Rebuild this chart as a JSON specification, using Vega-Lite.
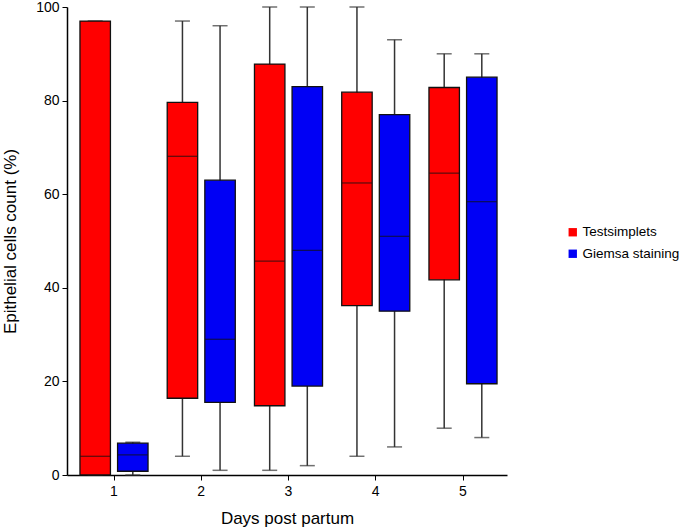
{
  "$schema": "https://vega.github.io/schema/vega-lite/v6.json",
  "width": 440,
  "height": 468,
  "autosize": "none",
  "padding": {"left": 67, "top": 7, "right": 178, "bottom": 56},
  "config": {
    "font": "Liberation Sans",
    "view": {"stroke": null},
    "axis": {"domainColor": "#000", "tickColor": "#000", "labelColor": "#000", "titleColor": "#000", "grid": false, "labelFont": "Liberation Sans", "titleFont": "Liberation Sans", "titleFontWeight": "normal"}
  },
  "data": {
    "values": [
      {"day": 1, "group": "Testsimplets", "min": 0, "q1": 0, "median": 4.0, "q3": 97, "max": 97},
      {"day": 1, "group": "Giemsa staining", "min": 0, "q1": 0.8, "median": 4.3, "q3": 6.8, "max": 7.0},
      {"day": 2, "group": "Testsimplets", "min": 4.0, "q1": 16.4, "median": 68.1, "q3": 79.6, "max": 97},
      {"day": 2, "group": "Giemsa staining", "min": 1.0, "q1": 15.5, "median": 29.0, "q3": 63.0, "max": 96},
      {"day": 3, "group": "Testsimplets", "min": 1.0, "q1": 14.8, "median": 45.7, "q3": 87.8, "max": 100},
      {"day": 3, "group": "Giemsa staining", "min": 2.0, "q1": 19.0, "median": 48.0, "q3": 83.0, "max": 100},
      {"day": 4, "group": "Testsimplets", "min": 4.0, "q1": 36.2, "median": 62.4, "q3": 81.8, "max": 100},
      {"day": 4, "group": "Giemsa staining", "min": 6.0, "q1": 35.0, "median": 51.0, "q3": 77.0, "max": 93},
      {"day": 5, "group": "Testsimplets", "min": 10.0, "q1": 41.7, "median": 64.5, "q3": 82.8, "max": 90},
      {"day": 5, "group": "Giemsa staining", "min": 8.0, "q1": 19.5, "median": 58.4, "q3": 85.0, "max": 90}
    ]
  },
  "encoding": {
    "x": {
      "field": "day", "type": "ordinal",
      "scale": {"paddingInner": 0, "paddingOuter": 0.0215, "align": 0.9},
      "axis": {"title": "Days post partum", "labelAngle": 0, "labelFontSize": 14, "titleFontSize": 17, "tickSize": 5, "labelPadding": 4, "titlePadding": 12, "domainWidth": 1.5}
    },
    "xOffset": {
      "field": "group", "type": "nominal",
      "sort": ["Testsimplets", "Giemsa staining"],
      "scale": {"paddingInner": 0.19, "paddingOuter": 0.255}
    }
  },
  "layer": [
    {
      "mark": {"type": "rule", "color": "#333", "strokeWidth": 1.5},
      "encoding": {
        "y": {"field": "min", "type": "quantitative", "scale": {"domain": [0, 100], "nice": false},
          "axis": {"title": "Epithelial cells count (%)", "values": [0, 20, 40, 60, 80, 100], "labelFontSize": 14, "titleFontSize": 17, "tickSize": 5, "labelPadding": 3, "titlePadding": 16, "domainWidth": 1.5}},
        "y2": {"field": "max"}
      }
    },
    {
      "mark": {"type": "tick", "orient": "horizontal", "size": 15, "thickness": 1.5, "color": "#333"},
      "encoding": {"y": {"field": "min", "type": "quantitative"}}
    },
    {
      "mark": {"type": "tick", "orient": "horizontal", "size": 15, "thickness": 1.5, "color": "#333"},
      "encoding": {"y": {"field": "max", "type": "quantitative"}}
    },
    {
      "mark": {"type": "bar", "stroke": "#111", "strokeWidth": 1.3, "opacity": 1},
      "encoding": {
        "y": {"field": "q1", "type": "quantitative"},
        "y2": {"field": "q3"},
        "color": {
          "field": "group", "type": "nominal",
          "sort": ["Testsimplets", "Giemsa staining"],
          "scale": {"domain": ["Testsimplets", "Giemsa staining"], "range": ["#ff0000", "#0000f5"]},
          "legend": {"title": null, "orient": "none", "legendX": 499, "legendY": 218.5, "symbolType": "square", "symbolSize": 70, "symbolStrokeWidth": 0, "labelFontSize": 13.5, "labelOffset": 3, "rowPadding": 6.5, "labelColor": "#000"}
        }
      }
    },
    {
      "mark": {"type": "tick", "orient": "horizontal", "size": 30, "thickness": 1.2, "color": "#111"},
      "encoding": {"y": {"field": "median", "type": "quantitative"}}
    }
  ]
}
